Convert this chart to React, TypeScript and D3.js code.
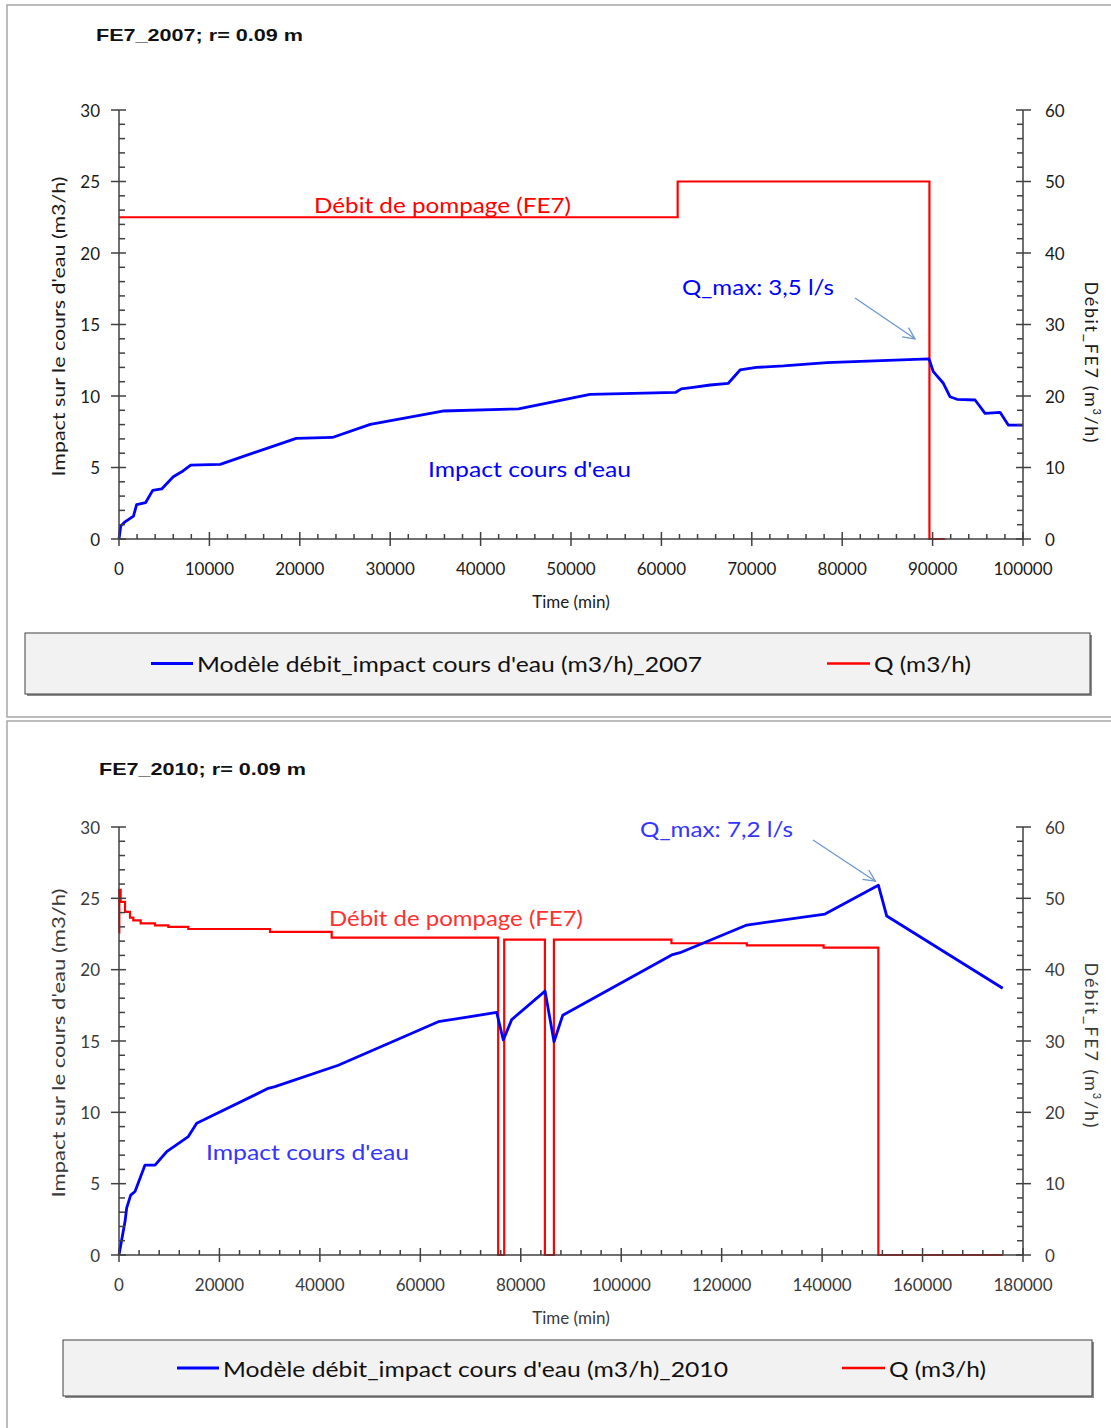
import React from "react";
import * as d3 from "d3";

// ---- 2007 test: modelled stream impact and pumping rate ----
const TIME_2007 = [0, 190, 660, 1600, 1950, 2950, 3730, 4720, 6000, 6940, 7930, 11200, 19600, 23600, 27800, 35800, 44200, 52100, 61600, 62200, 63500, 65400, 67400, 68700, 70500, 73500, 78300, 89600, 90080, 91190, 91920, 92700, 94700, 95800, 97460, 98370, 100000];
const IMPACT_2007 = [0, 0.9, 1.2, 1.6, 2.4, 2.55, 3.4, 3.5, 4.35, 4.7, 5.17, 5.22, 7.04, 7.1, 8.02, 8.95, 9.1, 10.12, 10.26, 10.5, 10.6, 10.77, 10.89, 11.82, 12.0, 12.1, 12.33, 12.6, 11.7, 10.89, 9.95, 9.77, 9.72, 8.79, 8.86, 7.97, 7.97];
const PUMP_TIME_2007 = [0, 61800, 89650, 91400];
const PUMP_Q_2007 = [45, 50, 0, 0];

// ---- 2010 test ----
const TIME_2010 = [0, 530, 1200, 1530, 2330, 3190, 5180, 7170, 9490, 13800, 15470, 29730, 31060, 43670, 63580, 75200, 76520, 78190, 84830, 86620, 88350, 110050, 111700, 125000, 140580, 151200, 152870, 175960];
const IMPACT_2010 = [0, 1.05, 2.34, 3.3, 4.2, 4.45, 6.3, 6.3, 7.24, 8.3, 9.23, 11.68, 11.8, 13.3, 16.35, 17.0, 15.07, 16.5, 18.5, 14.95, 16.8, 21.03, 21.19, 23.13, 23.9, 25.92, 23.76, 18.7];
const PUMP_TIME_2010 = [0, 60, 330, 1200, 2190, 2850, 4320, 7170, 9820, 13800, 30070, 42350, 75500, 76700, 84800, 86600, 110000, 125000, 140300, 151200, 176000];
const PUMP_Q_2010 = [45.2, 51.2, 49.5, 48.1, 47.3, 46.9, 46.5, 46.2, 46.0, 45.7, 45.3, 44.5, 0, 44.2, 0, 44.2, 43.7, 43.4, 43.1, 0, 0];

// ---- axis ticks ----
const LEFT_TICKS = [0, 5, 10, 15, 20, 25, 30];
const RIGHT_TICKS = [0, 10, 20, 30, 40, 50, 60];
const X_TICKS_2007 = d3.range(0, 100001, 10000);
const X_TICKS_2010 = d3.range(0, 180001, 20000);

// ---- texts ----
const TITLE_2007 = "FE7_2007; r= 0.09 m";
const TITLE_2010 = "FE7_2010; r= 0.09 m";
const LEGEND_IMPACT_2007 = "Modèle débit_impact cours d'eau (m3/h)_2007";
const LEGEND_IMPACT_2010 = "Modèle débit_impact cours d'eau (m3/h)_2010";
const LEGEND_Q = "Q (m3/h)";
const QMAX_2007 = "Q_max: 3,5 l/s";
const QMAX_2010 = "Q_max: 7,2 l/s";
const PUMP_LABEL = "Débit de pompage (FE7)";
const IMPACT_LABEL = "Impact cours d'eau";
const Y_LEFT_TITLE = "Impact sur le cours d'eau  (m3/h)";
const X_TITLE = "Time (min)";

const FONT = "Lato, 'Open Sans', sans-serif";

type PanelProps = {
  top: number; // panel frame top
  frameBottom: number;
  plotTop: number;
  plotBottom: number;
  xMax: number;
  xTicks: number[];
  xMinorStep: number;
  time: number[];
  impact: number[];
  pumpTime: number[];
  pumpQ: number[];
  title: string;
  titleX: number;
  titleY: number;
  titleLen: number;
  legendText: string;
  legend: { x0: number; x1: number; y0: number; y1: number; blueX: number; redX: number };
  qmax: { text: string; x: number; y: number; len: number; from: [number, number]; toOff: [number, number] };
  pumpLabel: { x: number; y: number; len: number };
  impactLabel: { x: number; y: number; len: number };
  leftTitleLen: number;
  rightTitle: { y: number; len: number };
  tickColor: string;
  textBlue: string;
  textRed: string;
};

function Panel(p: PanelProps) {
  const x0 = 119;
  const x1 = 1023;
  const x = d3.scaleLinear().domain([0, p.xMax]).range([x0, x1]);
  const yL = d3.scaleLinear().domain([0, 30]).range([p.plotBottom, p.plotTop]);
  const yR = d3.scaleLinear().domain([0, 60]).range([p.plotBottom, p.plotTop]);

  const impactPts: [number, number][] = p.time.map((t, i) => [t, p.impact[i]]);
  const pumpPts: [number, number][] = p.pumpTime.map((t, i) => [t, p.pumpQ[i]]);
  const blueLine = d3.line<[number, number]>().x((d) => x(d[0])).y((d) => yL(d[1]))(impactPts) || "";
  const redLine =
    d3.line<[number, number]>().x((d) => x(d[0])).y((d) => yR(d[1])).curve(d3.curveStepAfter)(pumpPts) || "";

  const axisColor = "#404040";
  const leftMinor = d3.range(0, 31, 1).filter((v) => v % 5 !== 0);
  const rightMinor = d3.range(0, 61, 2).filter((v) => v % 10 !== 0);
  const xMinor = d3.range(0, p.xMax + 1, p.xMinorStep).filter((v) => !p.xTicks.includes(v));

  // peak of the modelled impact (pointed to by the Q_max annotation)
  const peakIdx = d3.maxIndex(p.impact);
  const px = x(p.time[peakIdx]);
  const py = yL(p.impact[peakIdx]);
  const ax = px + p.qmax.toOff[0];
  const ay = py + p.qmax.toOff[1];
  const [sx, sy] = p.qmax.from;
  const ang = Math.atan2(ay - sy, ax - sx);
  const hl = 13;
  const ha = 0.45;
  const h1: [number, number] = [ax - hl * Math.cos(ang - ha), ay - hl * Math.sin(ang - ha)];
  const h2: [number, number] = [ax - hl * Math.cos(ang + ha), ay - hl * Math.sin(ang + ha)];

  const midY = (p.plotTop + p.plotBottom) / 2;
  const lg = p.legend;
  const lgMid = (lg.y0 + lg.y1) / 2;

  return (
    <g>
      {/* panel frame */}
      <rect x={7} y={p.top} width={1110} height={p.frameBottom - p.top} fill="#fff" stroke="#a6a6a6" strokeWidth={1.5} />

      {/* title */}
      <text
        x={p.titleX}
        y={p.titleY}
        fontFamily="'Liberation Sans', Arial, sans-serif"
        fontWeight="bold"
        fontSize={17}
        fill="#111"
        dominantBaseline="central"
        textLength={p.titleLen}
        lengthAdjust="spacingAndGlyphs"
      >
        {p.title}
      </text>

      {/* series */}
      <path d={redLine} fill="none" stroke="#ff0000" strokeWidth={2.2} />
      <path d={blueLine} fill="none" stroke="#0000ff" strokeWidth={2.8} strokeLinejoin="round" />

      {/* axes */}
      <g stroke={axisColor} strokeWidth={1.5}>
        <line x1={x0} y1={p.plotTop} x2={x0} y2={p.plotBottom} />
        <line x1={x1} y1={p.plotTop} x2={x1} y2={p.plotBottom} />
        <line x1={x0} y1={p.plotBottom} x2={x1} y2={p.plotBottom} />
        {LEFT_TICKS.map((v) => (
          <line key={"lt" + v} x1={x0 - 8} x2={x0 + 7} y1={yL(v)} y2={yL(v)} />
        ))}
        {leftMinor.map((v) => (
          <line key={"lm" + v} x1={x0} x2={x0 + 6} y1={yL(v)} y2={yL(v)} />
        ))}
        {RIGHT_TICKS.map((v) => (
          <line key={"rt" + v} x1={x1 - 7} x2={x1 + 8} y1={yR(v)} y2={yR(v)} />
        ))}
        {rightMinor.map((v) => (
          <line key={"rm" + v} x1={x1 - 6} x2={x1} y1={yR(v)} y2={yR(v)} />
        ))}
        {p.xTicks.map((v) => (
          <line key={"xt" + v} x1={x(v)} x2={x(v)} y1={p.plotBottom - 7} y2={p.plotBottom + 7} />
        ))}
        {xMinor.map((v) => (
          <line key={"xm" + v} x1={x(v)} x2={x(v)} y1={p.plotBottom - 5} y2={p.plotBottom} />
        ))}
      </g>

      {/* tick labels */}
      <g fontFamily={FONT} fontSize={17} fill={p.tickColor}>
        {LEFT_TICKS.map((v) => (
          <text key={"ll" + v} x={x0 - 19} y={yL(v)} textAnchor="end" dominantBaseline="central">
            {v}
          </text>
        ))}
        {RIGHT_TICKS.map((v) => (
          <text key={"rl" + v} x={x1 + 22} y={yR(v)} textAnchor="start" dominantBaseline="central">
            {v}
          </text>
        ))}
        {p.xTicks.map((v) => (
          <text key={"xl" + v} x={x(v)} y={p.plotBottom + 29} textAnchor="middle" dominantBaseline="central">
            {v}
          </text>
        ))}
        <text x={(x0 + x1) / 2} y={p.plotBottom + 62} textAnchor="middle" dominantBaseline="central">
          {X_TITLE}
        </text>
        <text
          transform={`translate(58,${midY + 2}) rotate(-90)`}
          textAnchor="middle"
          dominantBaseline="central"
          textLength={p.leftTitleLen}
          lengthAdjust="spacingAndGlyphs"
        >
          {Y_LEFT_TITLE}
        </text>
        <text
          transform={`translate(1092,${p.rightTitle.y}) rotate(90)`}
          textAnchor="middle"
          dominantBaseline="central"
          fontSize={18}
          textLength={p.rightTitle.len}
          lengthAdjust="spacing"
        >
          Débit_FE7{"  "}(m
          <tspan fontSize={11} dy={-6}>
            3
          </tspan>
          <tspan dy={6}>/h)</tspan>
        </text>
      </g>

      {/* in-plot annotations */}
      <g fontFamily={FONT} fontSize={21}>
        <text
          x={p.pumpLabel.x}
          y={p.pumpLabel.y}
          fill={p.textRed}
          dominantBaseline="central"
          textLength={p.pumpLabel.len}
          lengthAdjust="spacingAndGlyphs"
        >
          {PUMP_LABEL}
        </text>
        <text
          x={p.impactLabel.x}
          y={p.impactLabel.y}
          fill={p.textBlue}
          dominantBaseline="central"
          textLength={p.impactLabel.len}
          lengthAdjust="spacingAndGlyphs"
        >
          {IMPACT_LABEL}
        </text>
        <text
          x={p.qmax.x}
          y={p.qmax.y}
          fill={p.textBlue}
          dominantBaseline="central"
          textLength={p.qmax.len}
          lengthAdjust="spacingAndGlyphs"
        >
          {p.qmax.text}
        </text>
      </g>
      <g stroke="#6a98cc" strokeWidth={1.3} fill="none">
        <line x1={sx} y1={sy} x2={ax} y2={ay} />
        <polyline points={`${h1[0]},${h1[1]} ${ax},${ay} ${h2[0]},${h2[1]}`} />
      </g>

      {/* legend */}
      <rect x={lg.x0 + 2} y={lg.y0 + 2} width={lg.x1 - lg.x0} height={lg.y1 - lg.y0} fill="#8c8c8c" />
      <rect x={lg.x0} y={lg.y0} width={lg.x1 - lg.x0} height={lg.y1 - lg.y0} fill="#f2f2f2" stroke="#404040" strokeWidth={1} />
      <line x1={lg.blueX} x2={lg.blueX + 42} y1={lgMid} y2={lgMid} stroke="#0000ff" strokeWidth={2.8} />
      <line x1={lg.redX} x2={lg.redX + 43} y1={lgMid} y2={lgMid} stroke="#ff0000" strokeWidth={2.4} />
      <g fontFamily={FONT} fontSize={21} fill="#111">
        <text x={lg.blueX + 46} y={lgMid} dominantBaseline="central" textLength={505} lengthAdjust="spacingAndGlyphs">
          {p.legendText}
        </text>
        <text x={lg.redX + 47} y={lgMid} dominantBaseline="central" textLength={97} lengthAdjust="spacingAndGlyphs">
          {LEGEND_Q}
        </text>
      </g>
    </g>
  );
}

export default function App() {
  return (
    <svg
      width={1111}
      height={1428}
      style={{ position: "absolute", left: 0, top: 0, background: "#fff" }}
    >
      <rect x={0} y={0} width={1111} height={1428} fill="#fff" />
      <Panel
        top={5}
        frameBottom={717}
        plotTop={110}
        plotBottom={539}
        xMax={100000}
        xTicks={X_TICKS_2007}
        xMinorStep={2000}
        time={TIME_2007}
        impact={IMPACT_2007}
        pumpTime={PUMP_TIME_2007}
        pumpQ={PUMP_Q_2007}
        title={TITLE_2007}
        titleX={96}
        titleY={35}
        titleLen={207}
        legendText={LEGEND_IMPACT_2007}
        legend={{ x0: 25, x1: 1090, y0: 633, y1: 694, blueX: 151, redX: 827 }}
        qmax={{ text: QMAX_2007, x: 682, y: 286, len: 152, from: [855, 298], toOff: [-14, -20] }}
        pumpLabel={{ x: 314, y: 204, len: 257 }}
        impactLabel={{ x: 428, y: 468, len: 203 }}
        leftTitleLen={300}
        rightTitle={{ y: 362, len: 161 }}
        tickColor="#1a1a1a"
        textBlue="#0000ff"
        textRed="#ff0000"
      />
      <Panel
        top={721}
        frameBottom={1440}
        plotTop={827}
        plotBottom={1255}
        xMax={180000}
        xTicks={X_TICKS_2010}
        xMinorStep={4000}
        time={TIME_2010}
        impact={IMPACT_2010}
        pumpTime={PUMP_TIME_2010}
        pumpQ={PUMP_Q_2010}
        title={TITLE_2010}
        titleX={99}
        titleY={769}
        titleLen={207}
        legendText={LEGEND_IMPACT_2010}
        legend={{ x0: 63, x1: 1092, y0: 1340, y1: 1396, blueX: 177, redX: 842 }}
        qmax={{ text: QMAX_2010, x: 640, y: 828, len: 153, from: [813, 840], toOff: [-3, -4] }}
        pumpLabel={{ x: 329, y: 917, len: 254 }}
        impactLabel={{ x: 206, y: 1151, len: 203 }}
        leftTitleLen={309}
        rightTitle={{ y: 1045, len: 165 }}
        tickColor="#3a3a3a"
        textBlue="#3434ff"
        textRed="#ff3030"
      />
    </svg>
  );
}
